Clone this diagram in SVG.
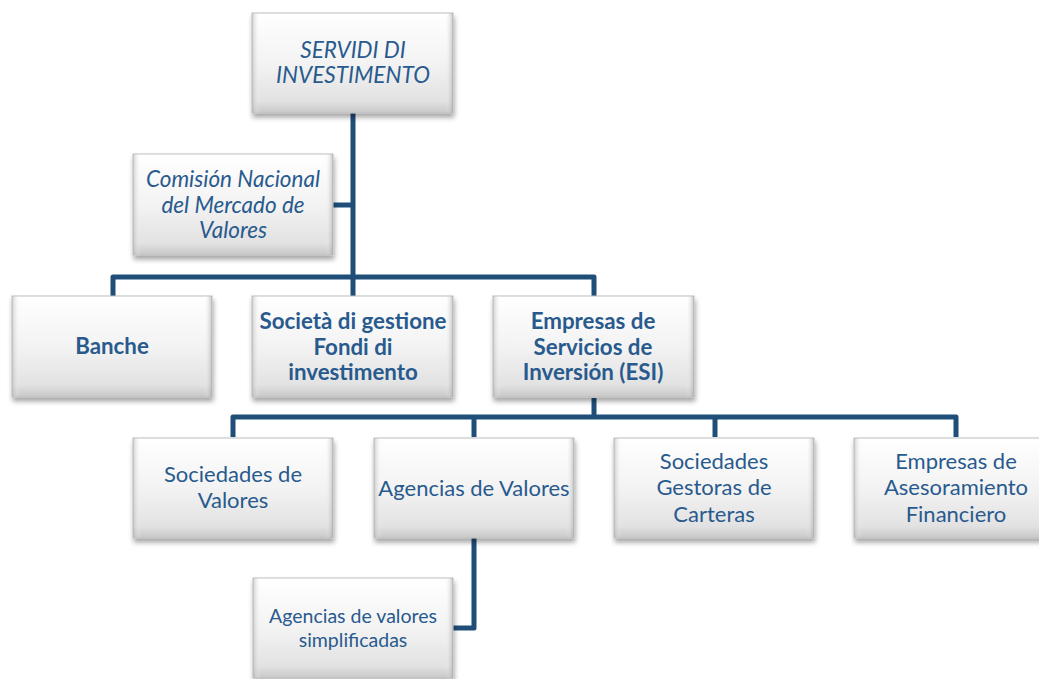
<svg xmlns="http://www.w3.org/2000/svg" width="1039" height="679" viewBox="0 0 1039 679">
<defs>
<linearGradient id="gv" x1="0" y1="0" x2="0" y2="1">
<stop offset="0" stop-color="#ffffff"/>
<stop offset="0.5" stop-color="#f3f3f3"/>
<stop offset="0.88" stop-color="#e2e2e2"/>
<stop offset="1" stop-color="#c8c8c8"/>
</linearGradient>
<linearGradient id="gh" x1="0" y1="0" x2="1" y2="0">
<stop offset="0" stop-color="#b0b0b0" stop-opacity="0.6"/>
<stop offset="0.04" stop-color="#ffffff" stop-opacity="0"/>
<stop offset="0.96" stop-color="#ffffff" stop-opacity="0"/>
<stop offset="1" stop-color="#a0a0a0" stop-opacity="0.6"/>
</linearGradient>
<filter id="sh" x="-10%" y="-10%" width="125%" height="130%">
<feDropShadow dx="1" dy="4" stdDeviation="2.5" flood-color="#000" flood-opacity="0.35"/>
</filter>
</defs>
<style>
.box{fill:url(#gv);stroke:#bdbdbd;stroke-width:1;filter:url(#sh)}
.bev{fill:url(#gh)}
.t{font-family:Lato,"Open Sans","Liberation Sans",sans-serif;fill:#285a8e;text-anchor:middle;font-size:22px}
.b{font-weight:bold;font-size:22.3px}
.i{font-style:italic;font-size:22.5px}
.s{font-size:19.5px}
.c{fill:none;stroke:#1f4e79;stroke-width:5;stroke-linejoin:round;stroke-linecap:butt}
</style>
<g id="connectors">
<path class="c" d="M353,113 V296"/>
<path class="c" d="M333,205 H353"/>
<path class="c" d="M113,296 V277 H594 V296"/>
<path class="c" d="M594,398 V417"/>
<path class="c" d="M233,437 V417 H956 V437"/>
<path class="c" d="M474,417 V437"/>
<path class="c" d="M715,417 V437"/>
<path class="c" d="M474,538 V628 H453"/>
</g>
<g id="servidi">
<rect class="box" x="252" y="13" width="201" height="100"/><rect class="bev" x="252" y="13" width="201" height="100"/>
<text class="t i" x="353" y="58">SERVIDI DI</text>
<text class="t i" x="353" y="83">INVESTIMENTO</text>
</g>
<g id="comision">
<rect class="box" x="133" y="154" width="200" height="101"/><rect class="bev" x="133" y="154" width="200" height="101"/>
<text class="t i" x="233" y="187">Comisión Nacional</text>
<text class="t i" x="233" y="213">del Mercado de</text>
<text class="t i" x="233" y="238">Valores</text>
</g>
<g id="banche">
<rect class="box" x="12" y="296" width="200" height="101"/><rect class="bev" x="12" y="296" width="200" height="101"/>
<text class="t b" x="112" y="354">Banche</text>
</g>
<g id="societa">
<rect class="box" x="252" y="296" width="201" height="101"/><rect class="bev" x="252" y="296" width="201" height="101"/>
<text class="t b" x="353" y="329">Società di gestione</text>
<text class="t b" x="353" y="355">Fondi di</text>
<text class="t b" x="353" y="380">investimento</text>
</g>
<g id="esi">
<rect class="box" x="493" y="296" width="201" height="101"/><rect class="bev" x="493" y="296" width="201" height="101"/>
<text class="t b" x="593" y="329">Empresas de</text>
<text class="t b" x="593" y="355">Servicios de</text>
<text class="t b" x="593" y="380">Inversión (ESI)</text>
</g>
<g id="sociedades-valores">
<rect class="box" x="133" y="438" width="200" height="100"/><rect class="bev" x="133" y="438" width="200" height="100"/>
<text class="t" x="233" y="482">Sociedades de</text>
<text class="t" x="233" y="508">Valores</text>
</g>
<g id="agencias-valores">
<rect class="box" x="374" y="438" width="200" height="100"/><rect class="bev" x="374" y="438" width="200" height="100"/>
<text class="t" x="474" y="496">Agencias de Valores</text>
</g>
<g id="gestoras">
<rect class="box" x="614" y="438" width="200" height="100"/><rect class="bev" x="614" y="438" width="200" height="100"/>
<text class="t" x="714" y="469">Sociedades</text>
<text class="t" x="714" y="495">Gestoras de</text>
<text class="t" x="714" y="522">Carteras</text>
</g>
<g id="asesoramiento">
<rect class="box" x="854" y="438" width="200" height="100"/><rect class="bev" x="854" y="438" width="200" height="100"/>
<text class="t" x="956" y="469">Empresas de</text>
<text class="t" x="956" y="495">Asesoramiento</text>
<text class="t" x="956" y="522">Financiero</text>
</g>
<g id="simplificadas">
<rect class="box" x="253" y="578" width="200" height="100"/><rect class="bev" x="253" y="578" width="200" height="100"/>
<text class="t s" x="353" y="623">Agencias de valores</text>
<text class="t s" x="353" y="647">simplificadas</text>
</g>
</svg>
